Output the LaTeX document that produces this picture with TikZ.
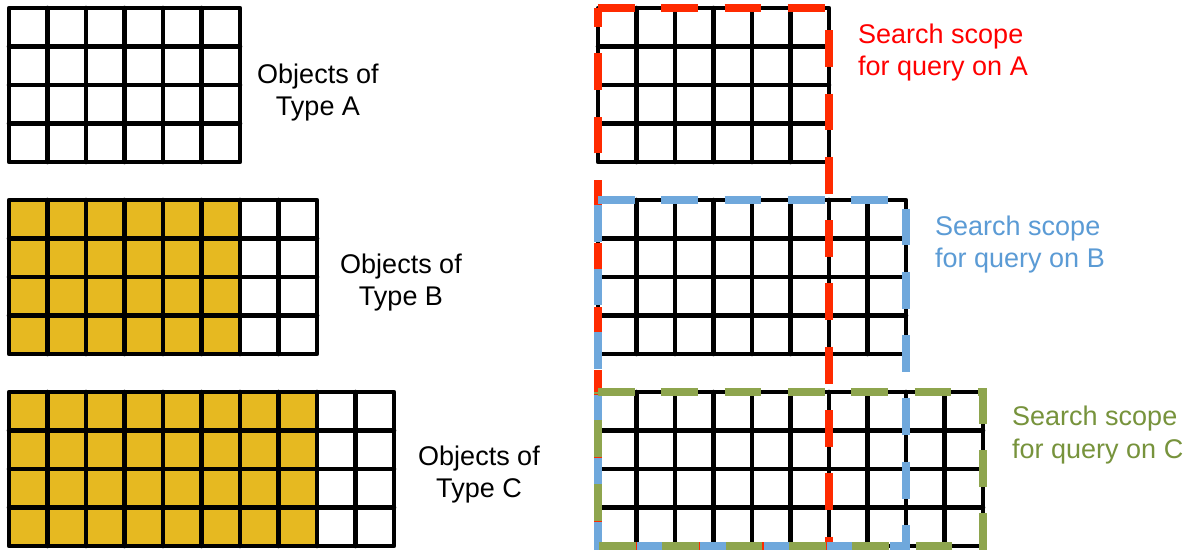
\documentclass[tikz,border=0pt]{standalone}
\usepackage{fontspec}
\setmainfont{Liberation Sans}
\definecolor{cellyellow}{HTML}{E6B921}
\definecolor{scopered}{HTML}{FF2A00}
\definecolor{scopeblue}{HTML}{6FA8DC}
\definecolor{scopegreen}{HTML}{8EA54E}
\definecolor{txtred}{HTML}{FF0000}
\definecolor{txtblue}{HTML}{5B9BD5}
\definecolor{txtgreen}{HTML}{77933C}
\newcommand\gridblock[4]{%
  \pgfmathsetmacro\gbw{#3*38.5}%
  \pgfmathsetmacro\gby{#4*38.5}%
  \pgfmathtruncatemacro\gblast{#3-1}%
  \fill[cellyellow] (#1,#2) rectangle ++(\gby,154);
  \foreach \i in {1,...,\gblast} \draw[gridline] (#1+\i*38.5,#2) -- ++(0,154);
  \foreach \j in {1,2,3} \draw[gridline] (#1,#2+\j*38.5) -- ++(\gbw,0);
  \draw[gridline] (#1,#2) rectangle ++(\gbw,154);
}
\begin{document}
\begin{tikzpicture}[x=1pt,y=-1pt,
  gridline/.style={line width=4.6pt, line cap=round, line join=round, black},
  scopeline/.style={line width=8.5pt, dash pattern=on 36.8pt off 26.5pt, line join=miter},
  lab/.style={font=\fontsize{27}{32}\selectfont, anchor=base, inner sep=0pt},
  slab/.style={font=\fontsize{27}{32}\selectfont, anchor=base west, inner sep=0pt}]
\useasboundingbox[fill=white] (0,0) rectangle (1190,550);
% left grids
\gridblock{9}{8}{6}{0}
\gridblock{9}{200}{8}{6}
\gridblock{9}{392}{10}{8}
% right grids
\gridblock{598}{8}{6}{0}
\gridblock{598}{200}{8}{0}
\gridblock{598}{392}{10}{0}
% scopes
\draw[scopeline, scopered] (598,8) -- (829,8) -- (829,546) -- (598,546) -- cycle;
\draw[scopeline, scopeblue] (598,200) -- (906,200) -- (906,546) -- (598,546) -- cycle;
\draw[scopeline, scopegreen] (598,392) -- (983,392) -- (983,546) -- (598,546) -- cycle;
% labels
\node[lab] (la1) at (318,83) {Objects of};
\node[lab] (la2) at (318,115) {Type A};
\node[lab] (lb1) at (401,273) {Objects of};
\node[lab] (lb2) at (401,305) {Type B};
\node[lab] (lc1) at (479,465) {Objects of};
\node[lab] (lc2) at (479,497) {Type C};
\node[slab, txtred] (sa1) at (858,43) {Search scope};
\node[slab, txtred] (sa2) at (858,75) {for query on A};
\node[slab, txtblue] (sb1) at (935,235) {Search scope};
\node[slab, txtblue] (sb2) at (935,267) {for query on B};
\node[slab, txtgreen] (sc1) at (1012,425) {Search scope};
\node[slab, txtgreen] (sc2) at (1012,458) {for query on C};
\end{tikzpicture}
\end{document}
